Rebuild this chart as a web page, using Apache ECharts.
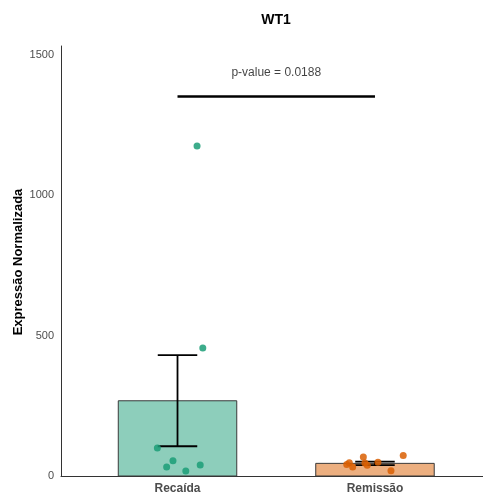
<!DOCTYPE html>
<html><head><meta charset="utf-8">
<script src="https://cdn.jsdelivr.net/npm/echarts@6/dist/echarts.min.js"></script>
<style>html,body{margin:0;padding:0;background:#fff}#c{width:483px;height:495px}</style>
</head><body><div id="c"></div>
<script>
const categories = ['Recaída', 'Remissão'];
const categoryPos = [1, 2];
const barMeans = [268, 45];
const errLow = [106, 39];
const errHigh = [431, 51];
const recaidaPoints = [[1.099, 1176], [1.128, 456], [0.898, 100], [0.977, 54], [0.945, 32], [1.042, 18], [1.115, 39]];
const remissaoPoints = [[1.857, 41], [1.870, 47], [1.887, 32], [1.941, 68], [1.949, 46], [1.961, 38], [2.015, 49], [2.081, 19], [2.143, 73]];
const yTicks = [0, 500, 1000, 1500];
const pBracket = [[1, 1352], [2, 1352]];
const pLabelPos = [[1.5, 1438]];
const pLabel = 'p-value = 0.0188';
const titleText = 'WT1';
const yName = 'Expressão Normalizada';

const fillColors = ['#8DCEBB', '#ECAF80'];
const pointColors = ['#1B9E77', '#D95F02'];
const FONT = '"Liberation Sans", Arial, Helvetica, sans-serif';

const chart = echarts.init(document.getElementById('c'), null, {renderer: 'canvas'});
const barData = categoryPos.map((x, i) => [x, barMeans[i]]);
const errData = categoryPos.map((x, i) => [x, errLow[i], errHigh[i]]);

chart.setOption({
  animation: false,
  backgroundColor: '#fff',
  grid: {left: 61, right: 0, top: 46, bottom: 15, containLabel: false},
  xAxis: {
    type: 'value', min: 0.41, max: 2.547,
    axisLine: {show: true, lineStyle: {color: '#333', width: 1}},
    axisTick: {show: false},
    splitLine: {show: false},
    axisLabel: {
      customValues: categoryPos,
      formatter: v => categories[Math.round(v) - 1] || '',
      color: '#4D4D4D', fontWeight: 'bold', fontSize: 12, fontFamily: FONT, margin: 7
    }
  },
  yAxis: {
    type: 'value', min: 0, max: 1532,
    axisLine: {show: true, lineStyle: {color: '#333', width: 1}},
    axisTick: {show: false},
    splitLine: {show: false},
    axisLabel: {customValues: yTicks, formatter: v => String(v), color: '#4D4D4D', fontSize: 11, fontFamily: FONT, margin: 7}
  },
  graphic: [
    {type: 'text', x: 276, y: 20,
      style: {text: titleText, font: 'bold 14px ' + FONT, fill: '#000', align: 'center', verticalAlign: 'middle'}},
    {type: 'text', x: 18, y: 262, rotation: Math.PI / 2,
      style: {text: yName, font: 'bold 13px ' + FONT, fill: '#000', align: 'center', verticalAlign: 'middle'}}
  ],
  series: [
    {
      type: 'custom', data: barData, z: 1,
      renderItem: (params, api) => {
        const x = api.value(0), v = api.value(1);
        const p1 = api.coord([x - 0.3, v]);
        const p2 = api.coord([x + 0.3, 0]);
        return {type: 'rect', shape: {x: p1[0], y: p1[1], width: p2[0] - p1[0], height: p2[1] - p1[1]},
          style: {fill: fillColors[params.dataIndex], stroke: '#3a3a3a', lineWidth: 1}};
      }
    },
    {
      type: 'custom', data: errData, z: 2,
      renderItem: (params, api) => {
        const x = api.value(0), lo = api.value(1), hi = api.value(2);
        const a = api.coord([x, lo]), b = api.coord([x, hi]);
        const l1 = api.coord([x - 0.1, lo]), r1 = api.coord([x + 0.1, lo]);
        const l2 = api.coord([x - 0.1, hi]), r2 = api.coord([x + 0.1, hi]);
        const st = {stroke: '#000', lineWidth: 1.8};
        return {type: 'group', children: [
          {type: 'line', shape: {x1: a[0], y1: a[1], x2: b[0], y2: b[1]}, style: st},
          {type: 'line', shape: {x1: l1[0], y1: l1[1], x2: r1[0], y2: r1[1]}, style: st},
          {type: 'line', shape: {x1: l2[0], y1: l2[1], x2: r2[0], y2: r2[1]}, style: st}
        ]};
      }
    },
    {type: 'scatter', data: recaidaPoints, symbolSize: 7, z: 3,
      itemStyle: {color: pointColors[0], opacity: 0.85}},
    {type: 'scatter', data: remissaoPoints, symbolSize: 7, z: 3,
      itemStyle: {color: pointColors[1], opacity: 0.85}},
    {type: 'line', data: pBracket, symbol: 'none', z: 4,
      lineStyle: {color: '#000', width: 2.5}},
    {type: 'scatter', data: pLabelPos, symbolSize: 1, z: 4,
      itemStyle: {color: 'rgba(0,0,0,0)'},
      label: {show: true, position: 'inside', formatter: pLabel, color: '#111', fontSize: 12, fontFamily: FONT}}
  ]
});
</script></body></html>
